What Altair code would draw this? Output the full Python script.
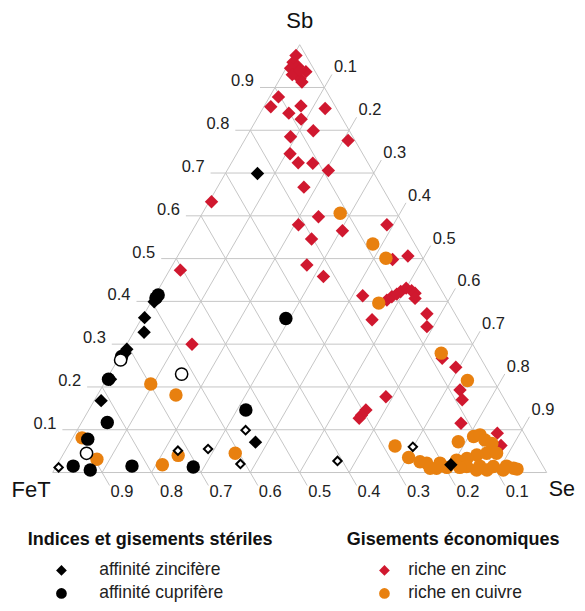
import altair as alt
import numpy as np
import pandas as pd

# ---------------- data: ternary fractions (Sb, Se); FeT = 1 - Sb - Se ----------------
zinc_sb = [0.975, 0.959, 0.949, 0.945, 0.937, 0.921, 0.913, 0.930, 0.940,
           0.878, 0.855, 0.840, 0.857, 0.826, 0.851, 0.799, 0.785, 0.776, 0.745,
           0.724, 0.723, 0.706, 0.667, 0.633, 0.473, 0.300, 0.598, 0.579, 0.565,
           0.579, 0.546, 0.498, 0.506, 0.485, 0.458, 0.413, 0.403, 0.411, 0.417,
           0.423, 0.431, 0.425, 0.419, 0.407, 0.357, 0.371, 0.341, 0.267, 0.246,
           0.193, 0.170, 0.177, 0.146, 0.134, 0.127, 0.115, 0.092, 0.063]
zinc_se = [0.005, 0.007, 0.022, 0.009, 0.044, 0.040, 0.048, 0.020, 0.030,
           0.018, 0.014, 0.058, 0.074, 0.090, 0.126, 0.128, 0.089, 0.210, 0.108,
           0.135, 0.165, 0.205, 0.175, 0.005, 0.022, 0.132, 0.239, 0.208, 0.304,
           0.387, 0.251, 0.439, 0.466, 0.272, 0.319, 0.421, 0.475, 0.481, 0.488,
           0.493, 0.500, 0.514, 0.524, 0.530, 0.468, 0.572, 0.587, 0.655, 0.693,
           0.728, 0.744, 0.586, 0.561, 0.558, 0.557, 0.769, 0.854, 0.876]

cuivre_sb = [0.606, 0.534, 0.501, 0.396, 0.279, 0.215, 0.062, 0.035,
             0.072, 0.084, 0.088, 0.076, 0.068, 0.045, 0.045, 0.041, 0.033, 0.029,
             0.022, 0.022, 0.025, 0.010, 0.012, 0.014, 0.015, 0.014, 0.015, 0.010,
             0.008, 0.006, 0.006, 0.006, 0.012, 0.010,
             0.207, 0.181, 0.081, 0.031, 0.018, 0.040, 0.045]
cuivre_se = [0.279, 0.381, 0.424, 0.462, 0.647, 0.732, 0.662, 0.703,
             0.785, 0.810, 0.821, 0.837, 0.855, 0.856, 0.876, 0.838, 0.822, 0.803,
             0.773, 0.746, 0.731, 0.772, 0.792, 0.831, 0.857, 0.885, 0.911, 0.928,
             0.936, 0.909, 0.876, 0.855, 0.818, 0.759,
             0.095, 0.159, 0.019, 0.074, 0.213, 0.234, 0.347]

zst_sb = [0.699, 0.399, 0.362, 0.328, 0.288, 0.279, 0.218, 0.168, 0.071, 0.018]
zst_se = [0.065, 0.006, 0.005, 0.021, 0.006, 0.007, 0.008, 0.014, 0.375, 0.797]

cst_sb = [0.415, 0.408, 0.360, 0.271, 0.218, 0.117, 0.146, 0.078, 0.015, 0.006, 0.015, 0.013]
cst_se = [0.006, 0.005, 0.292, 0.004, 0.004, 0.052, 0.318, 0.032, 0.034, 0.073, 0.153, 0.278]

open_circle_sb = [0.230, 0.045, 0.263]
open_circle_se = [0.146, 0.046, 0.006]
open_diamond_sb = [0.012, 0.051, 0.055, 0.020, 0.099, 0.027, 0.060]
open_diamond_se = [0.006, 0.228, 0.287, 0.370, 0.341, 0.563, 0.699]

grid_values = [0.1, 0.2, 0.3, 0.4, 0.5, 0.6, 0.7, 0.8, 0.9]
grid_labels = ["0.1", "0.2", "0.3", "0.4", "0.5", "0.6", "0.7", "0.8", "0.9"]
vertex_names = ["Sb", "FeT", "Se"]

leg_ster_title = "Indices et gisements stériles"
leg_ster_items = ["affinité zincifère", "affinité cuprifère"]
leg_eco_title = "Gisements économiques"
leg_eco_items = ["riche en zinc", "riche en cuivre"]

# ---------------- styles ----------------
RED = "#d0182f"
ORANGE = "#e8800f"
GRID = "#c6c6c6"
FONT = "Liberation Sans"
SQ = np.sqrt(3) / 2
W = 494.0          # plot width in px (triangle side)
H = W * SQ         # plot height
L = 15.0 / W       # tick extension in data units


def tern(sb, se):
    sb = np.asarray(sb, float)
    se = np.asarray(se, float)
    return se + sb / 2, sb * SQ


xs = alt.Scale(domain=[0, 1], nice=False, zero=False)
ys = alt.Scale(domain=[0, SQ], nice=False, zero=False)
X = lambda f="x": alt.X(f"{f}:Q", scale=xs, axis=None)
Y = lambda f="y": alt.Y(f"{f}:Q", scale=ys, axis=None)

# ---------------- grid ----------------
rows = []
for v in grid_values:
    # constant Sb (horizontal) with left tick
    rows.append(dict(x=v / 2 - L, y=v * SQ, x2=1 - v / 2, y2=v * SQ))
    # constant Se ("/") with upper-right tick
    rows.append(dict(x=v, y=0, x2=(1 + v) / 2 + L / 2, y2=(1 - v) * SQ + SQ * L))
    # constant FeT ("\") with bottom tick
    rows.append(dict(x=1 - v + L / 2, y=-SQ * L, x2=(1 - v) / 2, y2=(1 - v) * SQ))
# outline
rows += [dict(x=0, y=0, x2=1, y2=0), dict(x=0, y=0, x2=0.5, y2=SQ), dict(x=1, y=0, x2=0.5, y2=SQ)]
grid_df = pd.DataFrame(rows)
grid = alt.Chart(grid_df).mark_rule(color=GRID, strokeWidth=1).encode(
    x=X(), y=Y(), x2="x2:Q", y2="y2:Q")

gv = np.array(grid_values)
left_df = pd.DataFrame(dict(x=gv / 2 - L, y=gv * SQ, t=grid_labels))
right_df = pd.DataFrame(dict(x=(1 + gv) / 2 + L / 2, y=(1 - gv) * SQ + SQ * L, t=grid_labels))
bottom_df = pd.DataFrame(dict(x=1 - gv + L / 2, y=-SQ * L, t=grid_labels))

tick_style = dict(font=FONT, fontSize=16.5, color="#222222", baseline="middle")
left_txt = alt.Chart(left_df).mark_text(align="right", dx=-6, dy=-6, **tick_style).encode(x=X(), y=Y(), text="t:N")
right_txt = alt.Chart(right_df).mark_text(align="left", dx=2, dy=-7, **tick_style).encode(x=X(), y=Y(), text="t:N")
bottom_txt = alt.Chart(bottom_df).mark_text(align="left", dx=1, dy=6, **tick_style).encode(x=X(), y=Y(), text="t:N")

vx, vy = tern([1, 0, 0], [0, 0, 1])
vert_style = dict(font=FONT, color="#111111", baseline="middle")
vdf = pd.DataFrame(dict(x=vx, y=vy, t=vertex_names))
v_sb = alt.Chart(vdf.iloc[[0]]).mark_text(align="center", dy=-24, fontSize=22, **vert_style).encode(x=X(), y=Y(), text="t:N")
v_fe = alt.Chart(vdf.iloc[[1]]).mark_text(align="right", dx=-2, dy=17, fontSize=22, **vert_style).encode(x=X(), y=Y(), text="t:N")
v_se = alt.Chart(vdf.iloc[[2]]).mark_text(align="left", dx=2, dy=17, fontSize=21.5, **vert_style).encode(x=X(), y=Y(), text="t:N")

# ---------------- points ----------------
zx, zy = tern(zinc_sb, zinc_se)
cx, cy = tern(cuivre_sb, cuivre_se)
eco_df = pd.concat([
    pd.DataFrame(dict(x=zx, y=zy, cat=leg_eco_items[0])),
    pd.DataFrame(dict(x=cx, y=cy, cat=leg_eco_items[1])),
])
a, b = tern(zst_sb, zst_se)
c, d = tern(cst_sb, cst_se)
ster_df = pd.concat([
    pd.DataFrame(dict(x=a, y=b, cat=leg_ster_items[0])),
    pd.DataFrame(dict(x=c, y=d, cat=leg_ster_items[1])),
])


def legend(title, x, y, symoff, laboff):
    return alt.Legend(title=title, orient="none", legendX=x, legendY=y, padding=0,
                      titleFont=FONT, titleFontSize=18, titleFontWeight="bold", titleColor="#111111",
                      titlePadding=13, titleLimit=400, labelLimit=300,
                      labelFont=FONT, labelFontSize=17.5, labelColor="#222222",
                      symbolSize=115, symbolOffset=symoff, labelOffset=laboff, rowPadding=4,
                      symbolStrokeWidth=0)


leg_eco = legend(leg_eco_title, 294, 486, 29, 15)
leg_ster = legend(leg_ster_title, -25, 486, 25, 29)

eco = alt.Chart(eco_df).mark_point(filled=True, opacity=1, size=180, strokeWidth=0).encode(
    x=X(), y=Y(),
    shape=alt.Shape("cat:N", scale=alt.Scale(domain=leg_eco_items, range=["diamond", "circle"]), legend=leg_eco),
    color=alt.Color("cat:N", scale=alt.Scale(domain=leg_eco_items, range=[RED, ORANGE]), legend=leg_eco),
)
ster = alt.Chart(ster_df).mark_point(filled=True, opacity=1, size=180, strokeWidth=0).encode(
    x=X(), y=Y(),
    shape=alt.Shape("cat:N", scale=alt.Scale(domain=leg_ster_items, range=["diamond", "circle"]), legend=leg_ster),
    color=alt.Color("cat:N", scale=alt.Scale(domain=leg_ster_items, range=["#000000", "#000000"]), legend=leg_ster),
)

ocx, ocy = tern(open_circle_sb, open_circle_se)
odx, ody = tern(open_diamond_sb, open_diamond_se)
open_c = alt.Chart(pd.DataFrame(dict(x=ocx, y=ocy))).mark_point(
    shape="circle", size=150, filled=False, stroke="#000000", strokeWidth=1.5, fill="white", opacity=1
).encode(x=X(), y=Y())
open_d = alt.Chart(pd.DataFrame(dict(x=odx, y=ody))).mark_point(
    shape="diamond", size=70, filled=False, stroke="#000000", strokeWidth=2, fill="white", opacity=1
).encode(x=X(), y=Y())

chart = alt.layer(
    grid, left_txt, right_txt, bottom_txt, v_sb, v_fe, v_se, eco, ster, open_c, open_d
).resolve_scale(color="independent", shape="independent").properties(
    width=W, height=H,
    autosize=alt.AutoSizeParams(type="none"),
    padding={"left": 44.7, "top": 36.7, "right": 30.3, "bottom": 131},
).configure_view(stroke=None)

chart.save("out.html", embed_options={"renderer": "svg", "actions": False})
